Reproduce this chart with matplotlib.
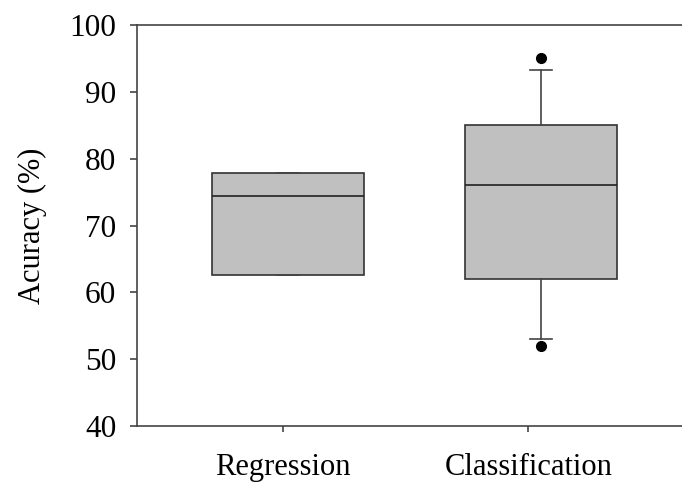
import matplotlib
matplotlib.use('Agg')
import matplotlib.pyplot as plt

# --- Resumen de las cajas (valores en %) ---
grupos      = ['Regression', 'Classification']
q1          = [62.6, 62.0]
medianas    = [74.4, 76.0]
q3          = [77.9, 85.0]
bigote_inf  = [62.6, 53.0]
bigote_sup  = [77.9, 93.2]
atipicos    = [[], [95.0, 52.0]]

posiciones  = [1, 2]
pos_ticks   = [0.98, 1.95]

plt.rcParams['font.family'] = ['Liberation Serif', 'DejaVu Serif']

stats = []
for i, nombre in enumerate(grupos):
    stats.append({
        'label': nombre,
        'q1': q1[i], 'med': medianas[i], 'q3': q3[i],
        'whislo': bigote_inf[i], 'whishi': bigote_sup[i],
        'fliers': atipicos[i],
    })

fig = plt.figure(figsize=(6.82, 4.84), dpi=100)
ax = fig.add_axes([0.2009, 0.1198, 0.7991, 0.8285])

ax.bxp(stats, positions=posiciones, widths=0.6, patch_artist=True,
       showfliers=True,
       boxprops=dict(facecolor='#c0c0c0', edgecolor='#333333', linewidth=1.2),
       medianprops=dict(color='#222222', linewidth=1.2),
       whiskerprops=dict(color='#444444', linewidth=1.2),
       capprops=dict(color='#444444', linewidth=1.2),
       capwidths=0.09,
       flierprops=dict(marker='o', markerfacecolor='black',
                       markeredgecolor='black', markersize=7))

ax.set_xlim(0.4032, 2.557)
ax.set_ylim(40, 100)
ax.set_yticks(range(40, 101, 10))
ax.set_xticks(pos_ticks)
ax.set_xticklabels(grupos)

ax.spines['right'].set_visible(False)
for lado in ['left', 'top', 'bottom']:
    ax.spines[lado].set_color('#444444')
    ax.spines[lado].set_linewidth(1.2)

ax.tick_params(axis='y', direction='out', length=5, width=1.2,
               color='#444444', labelsize=22.5, pad=10)
ax.tick_params(axis='x', direction='out', length=4.5, width=1.2,
               color='#444444', labelsize=22, pad=15)
ax.set_ylabel('Acuracy (%)', fontsize=22, labelpad=16)

plt.savefig('out.png', dpi=100)
plt.close()
